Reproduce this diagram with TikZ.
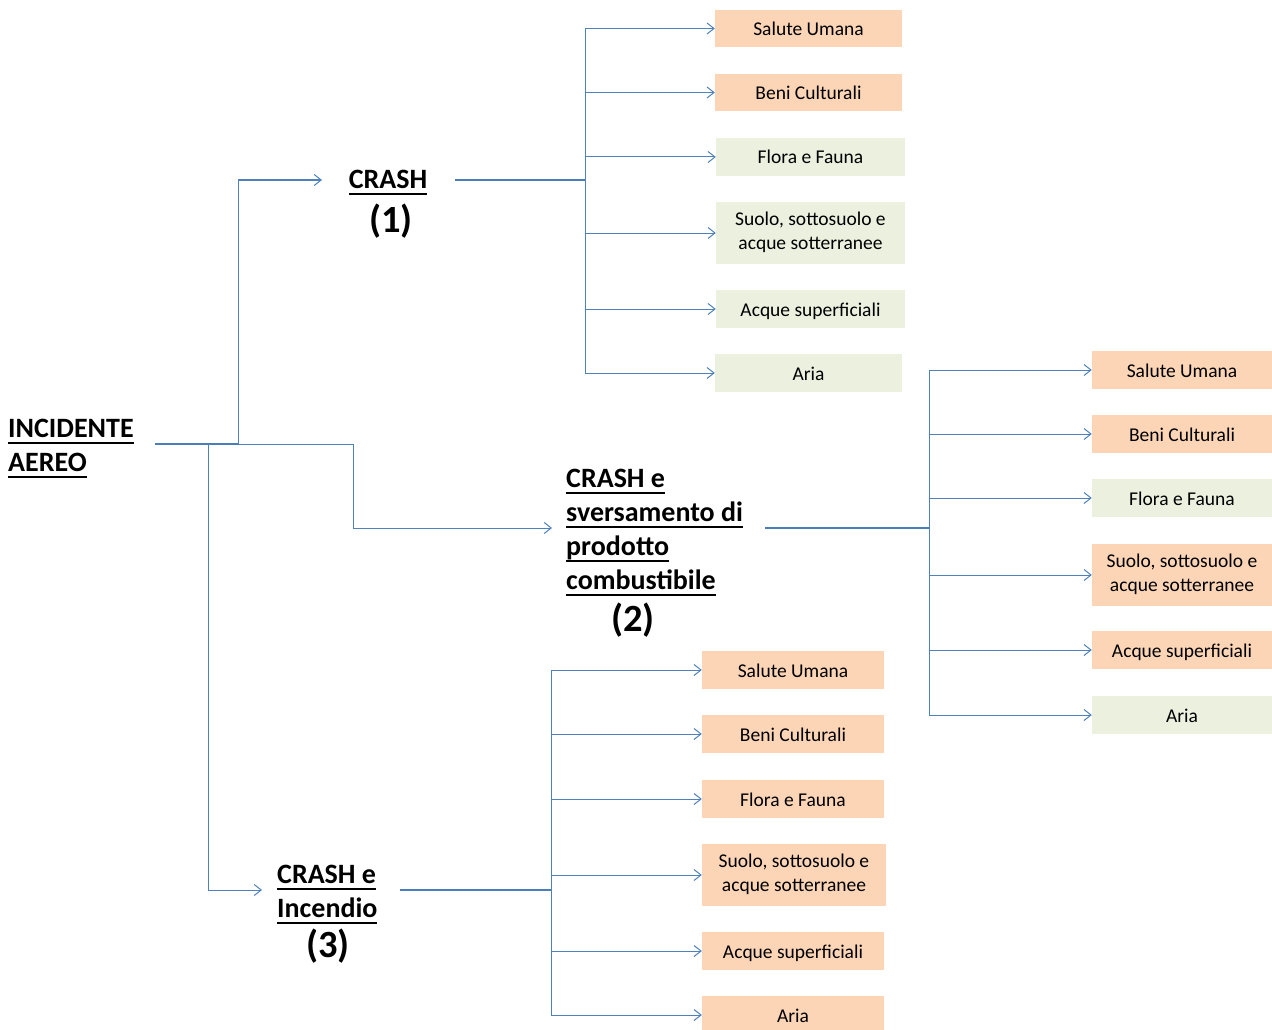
\documentclass[tikz,border=0pt]{standalone}
\usepackage{fontspec}
\setmainfont{Carlito}
\usetikzlibrary{arrows.meta}
\definecolor{peach}{HTML}{FBD5B5}
\definecolor{sage}{HTML}{EBF1DE}
\definecolor{lineblue}{HTML}{4F81BD}
\definecolor{trunkblue}{HTML}{4A7EBB}
\newsavebox{\ulxbox}
\newcommand\ulx[1]{\sbox{\ulxbox}{#1}\rlap{\usebox{\ulxbox}}\rule[-6.5pt]{\wd\ulxbox}{2pt}}
\newcommand\bxfont{\fontsize{19.5}{23.5}\selectfont}
\newcommand\bxstrut{\rule[-5pt]{0pt}{24pt}}
\newcommand\ttlfnt{\fontsize{28}{34}\selectfont\bfseries}
\newcommand\numfnt{\fontsize{38.5}{42}\selectfont\bfseries}
\begin{document}
\begin{tikzpicture}[x=1pt,y=-1pt,
  box/.style={fill=#1, inner sep=0pt, align=center, font=\bxfont, minimum height=38pt,
    execute at begin node=\bxstrut, execute at end node=\bxstrut},
  ttl/.style={inner sep=0pt, font=\ttlfnt},
  num/.style={inner sep=0pt, font=\numfnt},
  branch/.style={draw=lineblue, line width=1pt, -{Straight Barb[length=7pt,width=11pt]}},
  trunk/.style={draw=trunkblue, line width=1.8pt}]
\useasboundingbox (0,0) rectangle (1272,1030);

% titles
\node[ttl, anchor=north west, align=left] (t0) at (8,419) {\ulx{INCIDENTE}\\\ulx{AEREO}};
\node[ttl, anchor=base] (t1) at (388,189) {\ulx{CRASH}};
\node[num, anchor=base] (n1) at (391,232) {(1)};
\node[ttl, anchor=north west, align=left] (t2) at (566,469) {\ulx{CRASH e}\\\ulx{sversamento di}\\\ulx{prodotto}\\\ulx{combustibile}};
\node[num, anchor=base] (n2) at (633,631) {(2)};
\node[ttl, anchor=north west, align=left] (t3) at (277,865) {\ulx{CRASH e}\\\ulx{Incendio}};
\node[num, anchor=base] (n3) at (328,957) {(3)};

% group 1 boxes
\node[box=peach, minimum width=187pt, minimum height=37pt] (a1) at (808.5,28.5) {Salute Umana};
\node[box=peach, minimum width=187pt, minimum height=37pt] (a2) at (808.5,92.5) {Beni Culturali};
\node[box=sage, minimum width=189pt] (a3) at (810.5,157) {Flora e Fauna};
\node[box=sage, minimum width=189pt, minimum height=62pt] (a4) at (810.5,233) {Suolo, sottosuolo e\\acque sotterranee};
\node[box=sage, minimum width=189pt] (a5) at (810.5,309) {Acque superficiali};
\node[box=sage, minimum width=187pt] (a6) at (808.5,373) {Aria};

% group 2 boxes
\node[box=peach, minimum width=180pt] (b1) at (1182,370) {Salute Umana};
\node[box=peach, minimum width=180pt] (b2) at (1182,434) {Beni Culturali};
\node[box=sage, minimum width=180pt] (b3) at (1182,498) {Flora e Fauna};
\node[box=peach, minimum width=180pt, minimum height=62pt] (b4) at (1182,575) {Suolo, sottosuolo e\\acque sotterranee};
\node[box=peach, minimum width=180pt] (b5) at (1182,650) {Acque superficiali};
\node[box=sage, minimum width=180pt] (b6) at (1182,715) {Aria};

% group 3 boxes
\node[box=peach, minimum width=182pt] (c1) at (793,670) {Salute Umana};
\node[box=peach, minimum width=182pt] (c2) at (793,734) {Beni Culturali};
\node[box=peach, minimum width=182pt] (c3) at (793,799) {Flora e Fauna};
\node[box=peach, minimum width=184pt, minimum height=62pt] (c4) at (794,875) {Suolo, sottosuolo e\\acque sotterranee};
\node[box=peach, minimum width=182pt] (c5) at (793,951) {Acque superficiali};
\node[box=peach, minimum width=182pt] (c6) at (793,1015) {Aria};

% coordinates
\coordinate (r0) at (155,444);
\coordinate (rA) at (238,444);
\coordinate (rB) at (208,444);
\coordinate (rC) at (353,444);
\coordinate (e1) at (322,180);
\coordinate (e2) at (552,528);
\coordinate (e3) at (262,890);
\coordinate (s1) at (455,180);
\coordinate (j1) at (585,180);
\coordinate (s2) at (765,528);
\coordinate (j2) at (929,528);
\coordinate (s3) at (400,890);
\coordinate (j3) at (551,890);

% root connectors
\draw[branch] (rA) |- (e1);
\draw[branch] (rB) |- (e3);
\draw[branch] (rA) -- (rC) |- (e2);
\draw[trunk] (r0) -- (rA);

% trunks
\draw[trunk] (s1) -- (j1);
\draw[trunk] (s2) -- (j2);
\draw[trunk] (s3) -- (j3);

% branches
\foreach \n in {a1,a2,a3,a4,a5,a6} \draw[branch] (j1) |- (\n.west);
\foreach \n in {b1,b2,b3,b4,b5,b6} \draw[branch] (j2) |- (\n.west);
\foreach \n in {c1,c2,c3,c4,c5,c6} \draw[branch] (j3) |- (\n.west);
\end{tikzpicture}
\end{document}
